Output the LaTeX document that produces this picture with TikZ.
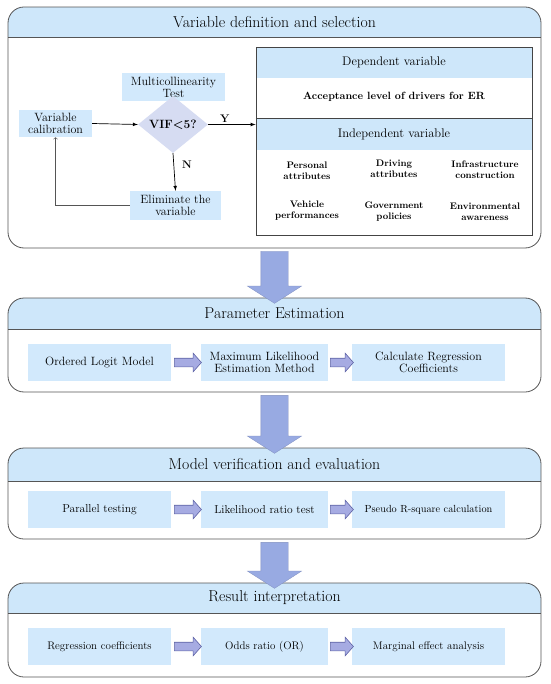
\documentclass[tikz,border=0pt]{standalone}
\usepackage{tikz}
\usetikzlibrary{shapes.geometric,shapes.arrows}

\definecolor{headblue}{RGB}{206,231,250}
\definecolor{boxblue}{RGB}{210,233,252}
\definecolor{diamfill}{RGB}{214,220,242}
\definecolor{arrowfill}{RGB}{152,170,226}
\definecolor{smallfill}{RGB}{166,171,226}
\definecolor{smalledge}{RGB}{95,100,165}
\definecolor{framegray}{RGB}{85,85,85}

\begin{document}
\begin{tikzpicture}[x=1pt, y=-1pt,
	every node/.style={font=\fontsize{12}{14}\selectfont, align=center, inner sep=2pt},
	title/.style={font=\fontsize{15.8}{18}\selectfont},
	stepbox/.style={fill=boxblue, minimum height=37pt},
	smallbox/.style={fill=boxblue, minimum height=28pt},
	band/.style={fill=headblue, minimum width=276pt, minimum height=31pt, font=\fontsize{12.5}{14}\selectfont},
	attr/.style={font=\fontsize{9.5}{11}\selectfont\bfseries},
	flow/.style={-latex, line width=0.7pt},
	bigarrow/.style={single arrow, fill=arrowfill, draw=arrowfill!85!black, line width=0.3pt, inner sep=13.5pt, single arrow head extend=13.5pt, single arrow tip angle=115, rotate=-90},
	smallarrow/.style={single arrow, fill=smallfill, draw=smalledge, line width=0.6pt, inner sep=4pt, single arrow head extend=5pt, single arrow tip angle=97}]
	\useasboundingbox (0,0) rectangle (550,684);

	% panels with their title bands
	\foreach \pt/\pb/\ph/\ptext [count=\i] in {7/248/37/Variable definition and selection, 298/392/329/Parameter Estimation, 448/539/481/Model verification and evaluation, 583/677/613/Result interpretation} {
		\begin{scope}
			\clip[rounded corners=16pt] (8,\pt) rectangle (541,\pb);
			\fill[headblue] (8,\pt) rectangle (541,\ph);
		\end{scope}
		\draw[framegray, line width=0.7pt] (8,\ph) -- (541,\ph);
		\draw[framegray, line width=0.8pt, rounded corners=16pt] (8,\pt) rectangle (541,\pb);
		\node[title] (ttl\i) at (274.5,{(\pt+\ph)/2}) {\ptext};
		\coordinate (pan\i-n) at (274.5,\pt);
		\coordinate (pan\i-s) at (274.5,\pb);
	}

	% variable definition and selection
	\node[smallbox, minimum width=73pt, minimum height=27pt] (calib) at (55.5,123.5) {Variable\\[-2pt]calibration};
	\node[smallbox, minimum width=103pt] (multi) at (173.5,87) {Multicollinearity\\[-2pt]Test};
	\node[diamond, fill=diamfill, minimum width=70pt, minimum height=45pt, inner sep=0pt, font=\fontsize{12}{14}\selectfont\bfseries] (vif) at (173,124.5) {VIF<5?};
	\node[smallbox, minimum width=91pt, minimum height=29pt] (elim) at (175.5,205.5) {Eliminate the\\[-2pt]variable};

	\node[band] (dephd) at (394,62.5) {Dependent variable};
	\node[font=\fontsize{10.5}{12}\selectfont\bfseries] (accept) at (394,97) {Acceptance level of drivers for ER};
	\node[band] (indhd) at (394,134.5) {Independent variable};
	\draw[framegray!80!black, line width=0.7pt] (indhd.north west) -- (indhd.north east);
	\node[draw=framegray!80!black, line width=0.8pt, minimum width=276pt, minimum height=188pt] (vars) at (394,141) {};

	\node[attr] (pers) at (307,171) {Personal\\attributes};
	\node[attr] (driv) at (394,169) {Driving\\attributes};
	\node[attr] (infra) at (485,170) {Infrastructure\\construction};
	\node[attr] (vehi) at (307,211) {Vehicle\\performances};
	\node[attr] (govt) at (394,212) {Government\\policies};
	\node[attr] (envi) at (485,212) {Environmental\\awareness};

	\draw[flow] (calib.east) -- (vif.west);
	\draw[flow] (vif.east) -- (vif.east -| vars.west) node[pos=0.35, above, font=\fontsize{11}{13}\selectfont\bfseries] {Y};
	\draw[flow] (vif.south) -- (elim.north) node[pos=0.3, right, xshift=6pt, font=\fontsize{11}{13}\selectfont\bfseries] {N};
	\draw[->, framegray, line width=0.6pt] (elim.west) -| (calib.south);

	% parameter estimation
	\node[stepbox, minimum width=143pt] (olm) at (99.5,362.5) {Ordered Logit Model};
	\node[stepbox, minimum width=127pt] (mle) at (264.5,362.5) {Maximum Likelihood\\[-2pt]Estimation Method};
	\node[stepbox, minimum width=153pt] (coef) at (428.5,362.5) {Calculate Regression\\[-2pt]Coefficients};
	\path (olm.east) -- node[smallarrow, minimum height=27pt] {} (mle.west);
	\path (mle.east) -- node[smallarrow, minimum height=23pt] {} (coef.west);

	% model verification and evaluation
	\node[stepbox, minimum width=143pt, font=\fontsize{11.5}{13}\selectfont] (para) at (99.5,509.5) {Parallel testing};
	\node[stepbox, minimum width=127pt, font=\fontsize{11.5}{13}\selectfont] (lrt) at (264.5,509.5) {Likelihood ratio test};
	\node[stepbox, minimum width=153pt, font=\fontsize{10.3}{12}\selectfont] (pseudo) at (428.5,509.5) {Pseudo R-square calculation};
	\path (para.east) -- node[smallarrow, minimum height=27pt] {} (lrt.west);
	\path (lrt.east) -- node[smallarrow, minimum height=23pt] {} (pseudo.west);

	% result interpretation
	\node[stepbox, minimum width=143pt, font=\fontsize{11}{13}\selectfont] (regc) at (99.5,646.5) {Regression coefficients};
	\node[stepbox, minimum width=127pt, font=\fontsize{11}{13}\selectfont] (odds) at (264.5,646.5) {Odds ratio (OR)};
	\node[stepbox, minimum width=153pt, font=\fontsize{11}{13}\selectfont] (marg) at (428.5,646.5) {Marginal effect analysis};
	\path (regc.east) -- node[smallarrow, minimum height=27pt] {} (odds.west);
	\path (odds.east) -- node[smallarrow, minimum height=23pt] {} (marg.west);

	% flow between panels
	\path (pan1-s) -- node[bigarrow, minimum height=52pt] {} (pan2-n);
	\path (pan2-s) -- node[bigarrow, minimum height=58pt] {} (pan3-n);
	\path (pan3-s) -- node[bigarrow, minimum height=46pt] {} (pan4-n);
\end{tikzpicture}
\end{document}
